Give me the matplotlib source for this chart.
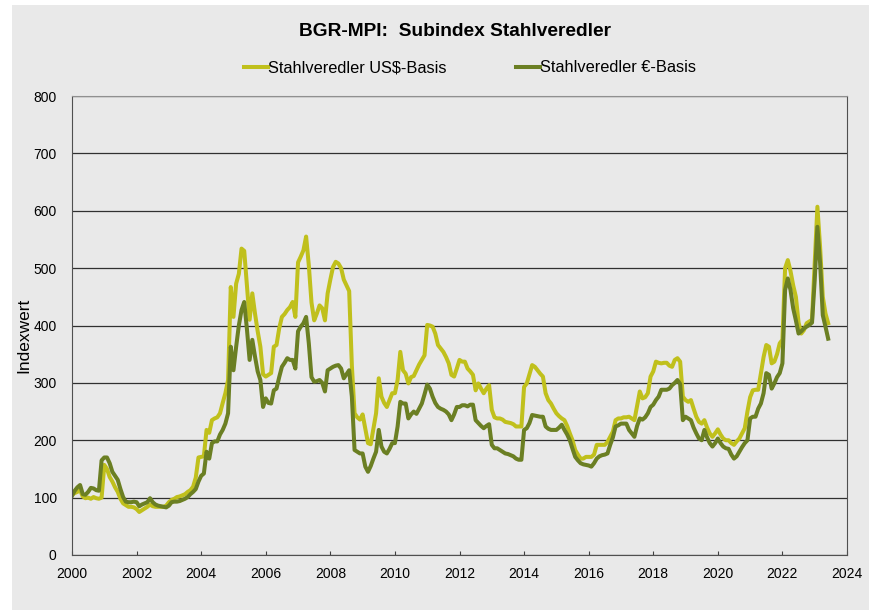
import numpy as np
import pandas as pd
import matplotlib
matplotlib.use("Agg")
import matplotlib.pyplot as plt
from matplotlib.patches import Rectangle

plt.rcParams['font.family'] = ['Liberation Sans', 'DejaVu Sans']

# monthly index values, Jan 2000 - Jun 2023
usd_basis = [
    # 2000
    105, 108, 110, 113, 102, 99, 100, 98, 101, 99, 98, 100,
    # 2001
    157, 150, 136, 128, 118, 110, 98, 90, 87, 84, 84, 83,
    # 2002
    80, 75, 78, 81, 84, 88, 85, 84, 84, 84, 84, 86,
    # 2003
    92, 96, 98, 101, 102, 104, 106, 110, 113, 119, 135, 170,
    # 2004
    171, 172, 218, 213, 235, 238, 240, 247, 265, 282, 305, 467,
    # 2005
    415, 473, 490, 534, 530, 470, 410, 456, 421, 390, 363, 315,
    # 2006
    311, 314, 317, 363, 366, 395, 415, 420, 427, 432, 441, 415,
    # 2007
    510, 520, 531, 555, 505, 440, 409, 421, 435, 430, 409, 456,
    # 2008
    480, 502, 511, 508, 500, 480, 470, 460, 330, 247, 240, 236,
    # 2009
    245, 220, 195, 193, 220, 247, 308, 276, 265, 258, 270, 282,
    # 2010
    282, 305, 354, 322, 316, 299, 310, 312, 322, 332, 340, 348,
    # 2011
    401, 400, 398, 386, 366, 360, 354, 345, 334, 314, 311, 325,
    # 2012
    340, 337, 337, 325, 320, 314, 287, 299, 290, 282, 290, 296,
    # 2013
    253, 240, 238, 238, 236, 232, 231, 230, 228, 224, 224, 224,
    # 2014
    293, 299, 315, 331, 328, 322, 316, 311, 282, 270, 264, 255,
    # 2015
    247, 242, 238, 235, 225, 212, 200, 183, 175, 168, 168, 171,
    # 2016
    171, 171, 175, 192, 192, 192, 192, 197, 206, 215, 235, 238,
    # 2017
    238, 240, 240, 241, 238, 235, 260, 285, 273, 275, 282, 311,
    # 2018
    320, 337, 335, 334, 335, 335, 330, 328, 340, 343, 337, 276,
    # 2019
    270, 267, 270, 255, 241, 232, 229, 235, 222, 212, 206, 212,
    # 2020
    219, 210, 203, 200, 200, 195, 192, 198, 203, 212, 221, 250,
    # 2021
    275, 287, 288, 288, 317, 345, 366, 363, 334, 337, 350, 369,
    # 2022
    375, 500, 514, 495, 470, 450, 405, 386, 392, 404, 407, 410,
    # 2023
    510, 607, 537, 450, 421, 404,
]

eur_basis = [
    # 2000
    103, 112, 118, 122, 106, 105, 110, 117, 116, 113, 112, 165,
    # 2001
    170, 170, 160, 145, 138, 131, 115, 101, 93, 92, 92, 93,
    # 2002
    92, 85, 88, 90, 92, 99, 92, 88, 86, 85, 84, 83,
    # 2003
    86, 92, 93, 93, 94, 96, 98, 101, 106, 110, 115, 128,
    # 2004
    138, 142, 180, 168, 195, 198, 198, 210, 218, 229, 247, 363,
    # 2005
    322, 363, 400, 427, 441, 394, 340, 375, 346, 320, 305, 258,
    # 2006
    273, 265, 264, 287, 290, 310, 328, 335, 343, 340, 340, 325,
    # 2007
    390, 398, 404, 415, 369, 310, 302, 303, 305, 300, 285, 322,
    # 2008
    325, 328, 330, 331, 325, 308, 315, 322, 276, 183, 180, 177,
    # 2009
    177, 154, 145, 155, 168, 180, 218, 189, 180, 177, 185, 195,
    # 2010
    195, 224, 267, 264, 264, 238, 245, 250, 246, 255, 264, 280,
    # 2011
    297, 290, 276, 265, 258, 255, 253, 250, 245, 235, 245, 258,
    # 2012
    258, 261, 261, 259, 262, 262, 235, 230, 225, 221, 225, 228,
    # 2013
    192, 186, 186, 183, 180, 177, 176, 174, 172, 168, 166, 166,
    # 2014
    218, 221, 230, 244, 243, 242, 241, 241, 224, 220, 218, 218,
    # 2015
    218, 222, 227, 218, 210, 200, 185, 171, 165, 160, 158, 157,
    # 2016
    156, 154, 160, 168, 172, 174, 175, 177, 192, 205, 224, 226,
    # 2017
    229, 229, 229, 218, 212, 206, 225, 238, 236, 240, 247, 258,
    # 2018
    262, 270, 276, 288, 288, 288, 290, 296, 300, 305, 298, 235,
    # 2019
    241, 238, 235, 222, 212, 203, 200, 218, 205, 195, 189, 195,
    # 2020
    203, 195, 189, 186, 185, 175, 168, 172, 180, 188, 195, 200,
    # 2021
    238, 241, 241, 255, 264, 282, 317, 314, 290, 299, 310, 317,
    # 2022
    334, 462, 482, 462, 430, 409, 386, 390, 395, 398, 401, 405,
    # 2023
    479, 572, 509, 418, 398, 377,
]

dates = pd.date_range('2000-01-01', periods=len(usd_basis), freq='MS')
t = dates.year + (dates.month - 1) / 12.0

yellow = '#c0c01c'
green = '#6b7f23'
bg = '#e9e9e9'

fig = plt.figure(figsize=(8.7, 6.1), dpi=100)
fig.patch.set_facecolor('white')
fig.patches.append(Rectangle((12 / 870, 0), 1, 605 / 610, transform=fig.transFigure,
                             facecolor=bg, edgecolor='none', zorder=-10))

ax = fig.add_axes([72 / 870, 55 / 610, 775 / 870, 459 / 610])
ax.set_facecolor(bg)

ax.plot(t, usd_basis, color=yellow, lw=2.9, label='Stahlveredler US$-Basis', solid_joinstyle='round')
ax.plot(t, eur_basis, color=green, lw=2.9, label='Stahlveredler €-Basis', solid_joinstyle='round')

ax.set_xlim(2000, 2024)
ax.set_ylim(0, 800)
ax.set_xticks(range(2000, 2025, 2))
ax.set_yticks(range(0, 801, 100))
ax.yaxis.grid(True, color='#303030', lw=0.9)
ax.set_axisbelow(True)
ax.tick_params(axis='x', direction='in', length=3, color='#404040', labelsize=10, pad=9)
ax.tick_params(axis='y', length=0, labelsize=10, pad=11)
for s in ['left', 'right', 'bottom']:
    ax.spines[s].set_color('#505050')
ax.spines['top'].set_color('#909090')
ax.set_ylabel('Indexwert', fontsize=12.5)
ax.yaxis.set_label_coords(-0.053, 0.479)

fig.text(455 / 870, 1 - 32 / 610, 'BGR-MPI:  Subindex Stahlveredler', ha='center', va='center',
         fontsize=13.8, fontweight='bold')
fig.legend(loc='center', bbox_to_anchor=(470 / 870, 1 - 68 / 610), ncol=2, frameon=False,
           fontsize=11.8, handlelength=1.5, handletextpad=0.0, columnspacing=4.2)

fig.savefig('out.png', dpi=100, facecolor=fig.get_facecolor())
